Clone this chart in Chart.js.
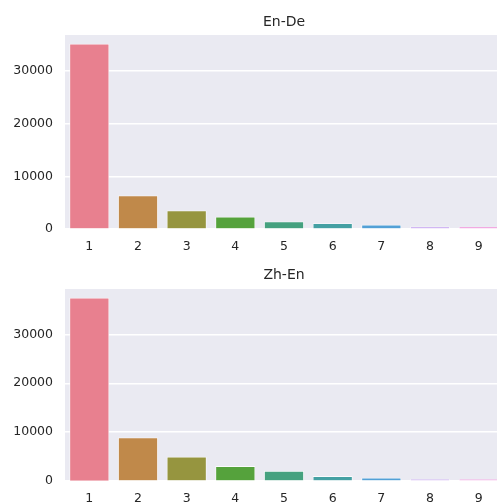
<!DOCTYPE html>
<html>
<head>
<meta charset="utf-8">
<script src="https://cdn.jsdelivr.net/npm/chart.js@4.4.1/dist/chart.umd.min.js"></script>
<style>
  html, body { margin: 0; padding: 0; background: #ffffff; width: 497px; height: 504px; overflow: hidden; }
  #wrap { position: relative; width: 497px; height: 504px; overflow: hidden; }
  canvas { position: absolute; left: 0; }
  #c1 { top: 0; }
  #c2 { top: 252px; }
</style>
</head>
<body>
<div id="wrap">
  <canvas id="c1" width="503" height="252"></canvas>
  <canvas id="c2" width="503" height="252"></canvas>
</div>
<script>
// Category labels shared by both panels
const categories = ['1', '2', '3', '4', '5', '6', '7', '8', '9'];

// Counts per category
const enDeCounts = [35100, 6270, 3420, 2220, 1330, 1000, 700, 380, 350];
const zhEnCounts = [37400, 8800, 4850, 2950, 1950, 900, 550, 270, 250];

// Y-axis tick values
const yTicks = [0, 10000, 20000, 30000];

// Panel titles
const titles = ['En-De', 'Zh-En'];

// Bar colours (muted husl palette)
const barColors = ['#e8808f', '#c0894a', '#96953f', '#55a23c', '#45a17f', '#44a0a3', '#52a0d6', '#c3a0ef', '#ee8fd9'];

const textColor = '#262626';
const fontFamily = 'DejaVu Sans';

// Fill the plotting area with the grey panel colour
const panelBg = {
  id: 'panelBg',
  beforeDraw(chart) {
    const { ctx, chartArea: a } = chart;
    ctx.save();
    ctx.fillStyle = '#eaeaf2';
    ctx.fillRect(a.left, a.top, a.right - a.left, a.bottom - a.top);
    ctx.restore();
  }
};

// Panel title centred over the plotting area
const panelTitle = {
  id: 'panelTitle',
  afterDraw(chart, args, opts) {
    const { ctx, chartArea: a } = chart;
    ctx.save();
    ctx.fillStyle = textColor;
    ctx.font = '14px "' + fontFamily + '"';
    ctx.textAlign = 'center';
    ctx.textBaseline = 'middle';
    ctx.fillText(opts.text, (a.left + a.right) / 2, opts.y);
    ctx.restore();
  }
};

function makeChart(id, title, values, topPad, titleY) {
  const maxVal = Math.max(...values) * 1.05;
  return new Chart(document.getElementById(id), {
    type: 'bar',
    data: {
      labels: categories,
      datasets: [{
        data: values,
        backgroundColor: barColors,
        borderColor: 'rgba(255,255,255,0.8)',
        borderWidth: { top: 0.8, left: 0.8, right: 0.8, bottom: 0 },
        borderSkipped: false,
        categoryPercentage: 1.0,
        barPercentage: 0.8,
        inflateAmount: 0.5
      }]
    },
    options: {
      responsive: false,
      devicePixelRatio: 1,
      animation: false,
      layout: { padding: { left: 0, right: 0, top: topPad, bottom: 0 } },
      plugins: {
        legend: { display: false },
        tooltip: { enabled: false },
        title: { display: false },
        panelTitle: { text: title, y: titleY }
      },
      scales: {
        x: {
          grid: { display: false, drawTicks: false },
          border: { display: false },
          ticks: { color: textColor, font: { family: fontFamily, size: 12.5 }, padding: 10 },
          afterFit(scale) { scale.height = 23; }
        },
        y: {
          min: 0,
          max: maxVal,
          grid: { color: '#ffffff', lineWidth: 1.4, drawTicks: false },
          border: { display: false },
          ticks: {
            color: textColor,
            font: { family: fontFamily, size: 12.5 },
            padding: 12,
            callback: v => String(v)
          },
          afterBuildTicks(scale) { scale.ticks = yTicks.map(v => ({ value: v })); },
          afterFit(scale) { scale.width = 65; }
        }
      }
    },
    plugins: [panelBg, panelTitle]
  });
}

makeChart('c1', titles[0], enDeCounts, 35, 22.5);
makeChart('c2', titles[1], zhEnCounts, 37, 23.5);
</script>
</body>
</html>
